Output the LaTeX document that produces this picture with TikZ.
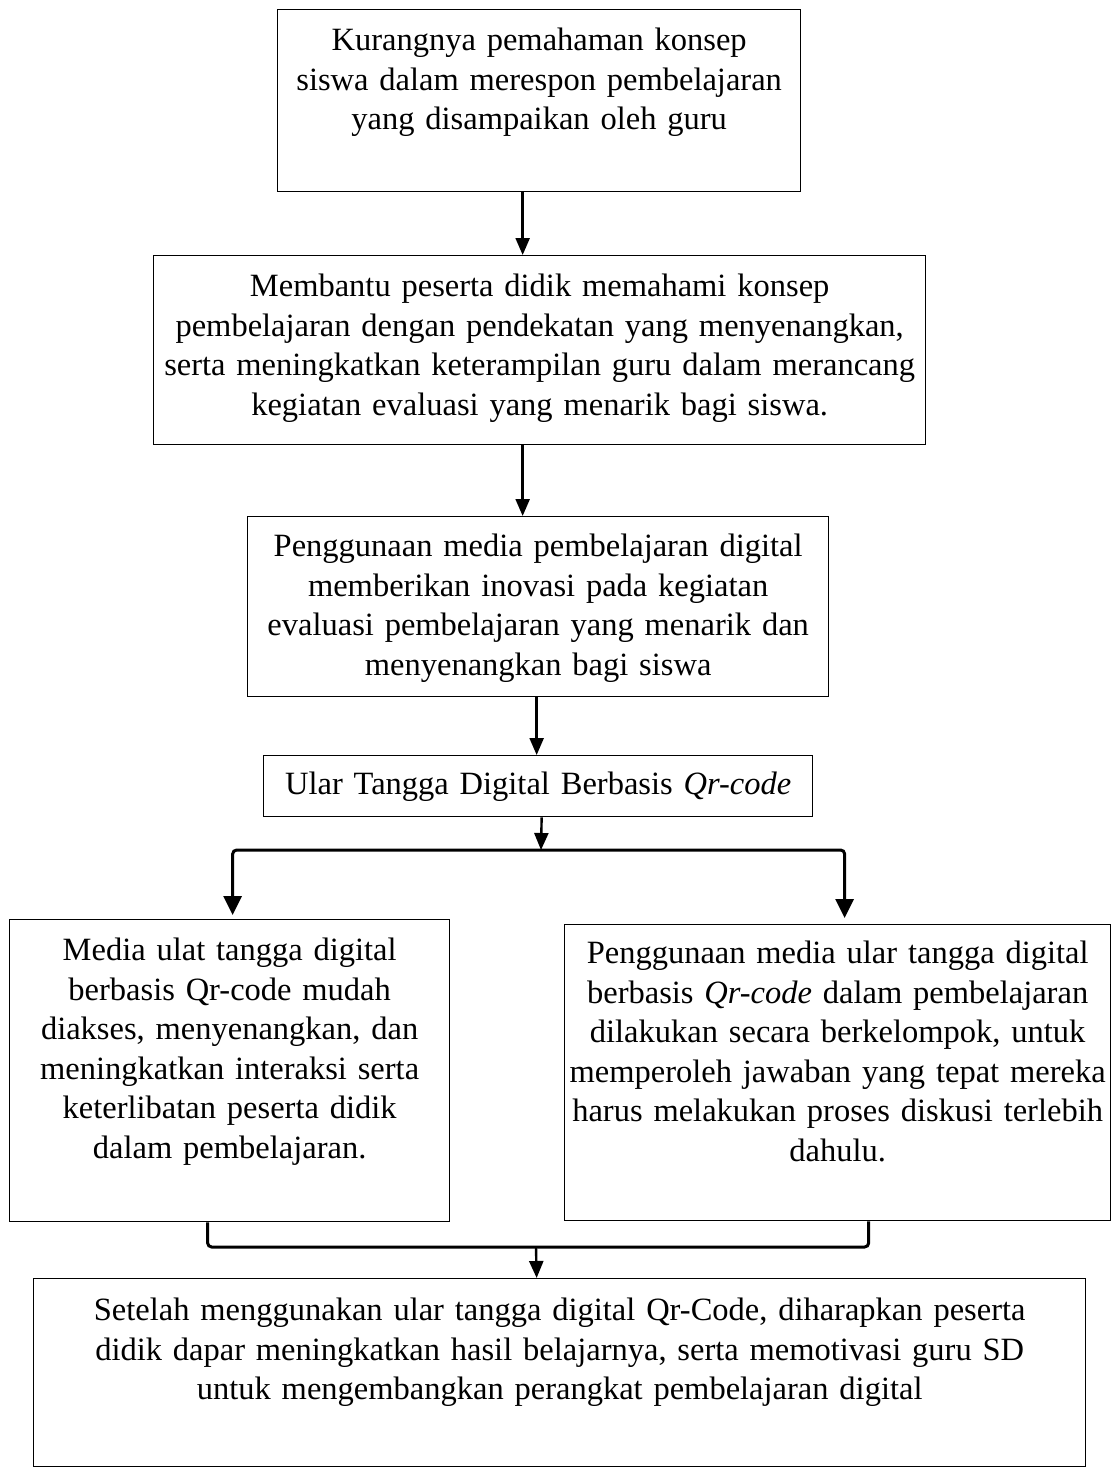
\documentclass[tikz,border=0pt]{standalone}
\usepackage{fontspec}
\setmainfont{Liberation Serif}
\usetikzlibrary{arrows.meta}
\tikzset{
  kotak/.style={draw=black, line width=1.3pt, anchor=north west, inner sep=0pt, align=center,
    font=\fontsize{32.5pt}{39.5pt}\selectfont},
  panah/.style={line width=2.4pt, -{Triangle[length=17pt,width=14pt]}},
  cabang/.style={line width=3pt, rounded corners=4pt,
    {Triangle[length=19pt,width=18pt]}-{Triangle[length=19pt,width=18pt]}},
  gabung/.style={line width=3pt, rounded corners=4pt},
}

\begin{document}
\begin{tikzpicture}[x=1pt, y=-1pt]
\useasboundingbox (0,0) rectangle (1118,1472);

\node[kotak, text width=523pt, text height=41pt, text depth=141pt] (masalah) at (277,9) {%
Kurangnya pemahaman konsep\\ siswa dalam merespon pembelajaran\\ yang disampaikan oleh guru};

\node[kotak, text width=772pt, text height=41pt, text depth=148pt] (tujuan) at (153,255) {%
Membantu peserta didik memahami konsep\\ pembelajaran dengan pendekatan yang menyenangkan,\\
serta meningkatkan keterampilan guru dalam merancang\\ kegiatan evaluasi yang menarik bagi siswa.};

\node[kotak, text width=581pt, text height=40pt, text depth=140pt] (media) at (247,516) {%
Penggunaan media pembelajaran digital\\ memberikan inovasi pada kegiatan\\
evaluasi pembelajaran yang menarik dan\\ menyenangkan bagi siswa};

\node[kotak, text width=549pt, text height=39pt, text depth=22pt] (ular) at (263,755) {%
Ular Tangga Digital Berbasis \textit{Qr-code}};

\node[kotak, text width=440pt, text height=41pt, text depth=261pt] (kiri) at (9,919) {%
Media ulat tangga digital\\ berbasis Qr-code mudah\\ diakses, menyenangkan, dan\\
meningkatkan interaksi serta\\ keterlibatan peserta didik\\ dalam pembelajaran.};

\node[kotak, text width=546pt, text height=39pt, text depth=257pt] (kanan) at (564,924) {%
Penggunaan media ular tangga digital\\ berbasis \textit{Qr-code} dalam pembelajaran\\
dilakukan secara berkelompok, untuk\\ memperoleh jawaban yang tepat mereka\\
harus melakukan proses diskusi terlebih\\ dahulu.};

\node[kotak, text width=1052pt, text height=42pt, text depth=146pt] (hasil) at (33,1278) {%
Setelah menggunakan ular tangga digital Qr-Code, diharapkan peserta\\
didik dapar meningkatkan hasil belajarnya, serta memotivasi guru SD\\
untuk mengembangkan perangkat pembelajaran digital};

\coordinate (pisah) at (541,850);
\coordinate (satu) at (536,1247);

\draw[panah] ([xshift=-16.5pt]masalah.south) -- ([xshift=-17pt]tujuan.north);
\draw[panah] ([xshift=-17pt]tujuan.south) -- ([xshift=-15.5pt]media.north);
\draw[panah] ([xshift=-1.5pt]media.south) -- ([xshift=-1.5pt]ular.north);
\draw[panah] ([xshift=3.5pt]ular.south) -- (pisah);
\draw[cabang] ([xshift=3pt,yshift=4pt]kiri.north) |- (pisah) -| ([xshift=7pt,yshift=6pt]kanan.north);

\draw[gabung] ([xshift=-22pt]kiri.south) |- (satu) -| ([xshift=31pt]kanan.south);
\draw[panah] (satu) -- ([xshift=-23pt]hasil.north);

\end{tikzpicture}
\end{document}
